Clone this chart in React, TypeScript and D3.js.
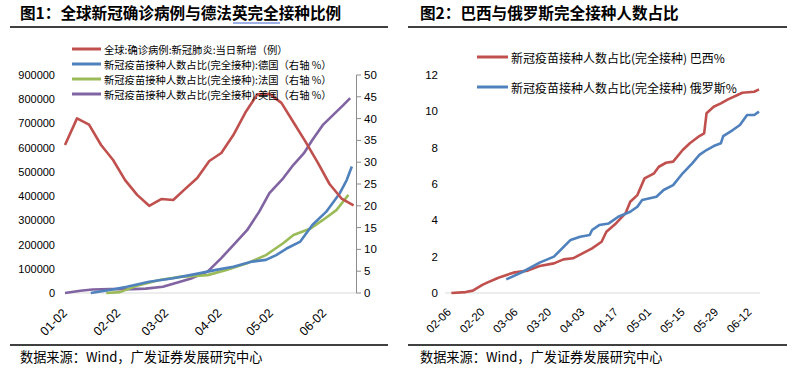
import React from "react";
import * as d3 from "d3";

// ---------- Chart 1 data ----------
const title1 = "图1：全球新冠确诊病例与德法英完全接种比例";
const title2 = "图2：巴西与俄罗斯完全接种人数占比";
const sourceText = "数据来源：Wind，广发证券发展研究中心";

const legend1 = [
  "全球:确诊病例:新冠肺炎:当日新增（例）",
  "新冠疫苗接种人数占比(完全接种):德国（右轴 %）",
  "新冠疫苗接种人数占比(完全接种):法国（右轴 %）",
  "新冠疫苗接种人数占比(完全接种):美国（右轴 %）",
];
const legend2 = [
  "新冠疫苗接种人数占比(完全接种) 巴西%",
  "新冠疫苗接种人数占比(完全接种) 俄罗斯%",
];

const globalDates = [
  "01-02", "01-09", "01-16", "01-23", "01-30", "02-06", "02-13", "02-20", "02-27",
  "03-06", "03-13", "03-20", "03-27", "04-03", "04-10", "04-17", "04-24", "05-01",
  "05-08", "05-15", "05-22", "05-29", "06-05", "06-12", "06-19",
];
const globalNewCases = [
  611000, 721000, 695000, 611000, 549000, 466000, 405000, 360000, 388000,
  384000, 430000, 475000, 545000, 578000, 652000, 745000, 820000, 822000,
  785000, 705000, 625000, 540000, 450000, 390000, 362000,
];

const deDates = [
  "01-17", "01-28", "02-07", "02-20", "03-06", "03-21", "03-31", "04-10", "04-21",
  "04-29", "05-05", "05-11", "05-19", "05-26", "06-03", "06-11", "06-15", "06-18",
];
const deValues = [0, 0.7, 1.45, 2.6, 3.4, 4.5, 5.3, 6.0, 7.2, 7.6, 8.7, 10.2, 11.8, 15.6, 18.6, 22.9, 25.9, 29.0];

const frDates = [
  "01-26", "02-03", "02-14", "02-26", "03-10", "03-26", "04-06", "04-18", "04-29",
  "05-09", "05-15", "05-25", "06-01", "06-09", "06-16",
];
const frValues = [0, 0.2, 1.8, 3.0, 3.7, 4.1, 5.3, 6.8, 8.7, 11.4, 13.3, 14.8, 16.7, 19.0, 22.5];

const usDates = [
  "01-02", "01-11", "01-18", "01-28", "02-10", "02-18", "02-28", "03-10", "03-17",
  "03-26", "04-03", "04-10", "04-18", "04-25", "05-01", "05-09", "05-15", "05-21",
  "05-26", "06-01", "06-07", "06-13", "06-17",
];
const usValues = [
  0, 0.5, 0.8, 0.9, 0.9, 1.0, 1.45, 2.6, 3.4, 4.9, 8.0, 11.0, 14.4, 18.6, 22.9,
  26.3, 29.4, 32.0, 35.1, 38.5, 40.8, 43.1, 44.7,
];

const leftTicks = ["01-02", "02-02", "03-02", "04-02", "05-02", "06-02"];
const leftYTicks = [0, 100000, 200000, 300000, 400000, 500000, 600000, 700000, 800000, 900000];
const rightYTicks = [0, 5, 10, 15, 20, 25, 30, 35, 40, 45, 50];

// ---------- Chart 2 data ----------
const brDates = [
  "02-07", "02-13", "02-16", "02-20", "02-22", "02-26", "02-28", "03-05", "03-11",
  "03-16", "03-22", "03-26", "03-30", "04-03", "04-07", "04-11", "04-13", "04-17",
  "04-21", "04-23", "04-26", "04-29", "05-03", "05-05", "05-08", "05-11", "05-15",
  "05-18", "05-22", "05-24", "05-25", "05-28", "05-31", "06-03", "06-07", "06-09",
  "06-14", "06-16",
];
const brValues = [
  0.0, 0.05, 0.13, 0.45, 0.57, 0.8, 0.9, 1.12, 1.23, 1.49, 1.63, 1.85, 1.91, 2.18,
  2.46, 2.82, 3.37, 3.83, 4.38, 5.02, 5.39, 6.31, 6.59, 6.95, 7.17, 7.23, 7.87,
  8.24, 8.64, 8.79, 9.89, 10.25, 10.44, 10.66, 10.9, 11.02, 11.08, 11.21,
];

const ruDates = [
  "03-02", "03-09", "03-16", "03-22", "03-29", "04-02", "04-06", "04-07", "04-10",
  "04-14", "04-18", "04-23", "04-26", "04-28", "05-04", "05-07", "05-11", "05-15",
  "05-19", "05-22", "05-25", "05-28", "05-31", "06-01", "06-05", "06-08", "06-11",
  "06-14", "06-16",
];
const ruValues = [
  0.75, 1.17, 1.67, 2.0, 2.92, 3.1, 3.19, 3.47, 3.74, 3.83, 4.2, 4.47, 4.75, 5.12,
  5.3, 5.67, 5.94, 6.59, 7.14, 7.6, 7.87, 8.09, 8.24, 8.64, 8.97, 9.25, 9.8, 9.8, 9.98,
];

const rightTicks = ["02-06", "02-20", "03-06", "03-20", "04-03", "04-17", "05-01", "05-15", "05-29", "06-12"];
const chart2YTicks = [0, 2, 4, 6, 8, 10, 12];

// ---------- styles ----------
const RED = "#C0504D";
const BLUE = "#4F81BD";
const GREEN = "#9BBB59";
const PURPLE = "#8064A2";
const AXIS = "#8c8c8c";
const CJK = "'Noto Sans CJK SC', 'Noto Sans', sans-serif";
const NUM = "'Liberation Sans', Arial, sans-serif";

const parse = (s: string) => d3.timeParse("%Y-%m-%d")("2021-" + s) as Date;

export default function App() {
  // chart 1 scales
  const x1 = d3.scaleTime().domain([parse("01-02"), parse("06-21")]).range([65, 357]);
  const yL = d3.scaleLinear().domain([0, 900000]).range([293, 75]);
  const yR = d3.scaleLinear().domain([0, 50]).range([293, 75]);

  // chart 2 scales
  const x2 = d3.scaleTime().domain([parse("02-06"), parse("06-16")]).range([449, 759]);
  const y2 = d3.scaleLinear().domain([0, 12]).range([293, 75]);

  const mkLine = (x: any, y: any) =>
    d3
      .line<[string, number]>()
      .x((d) => x(parse(d[0])))
      .y((d) => y(d[1]));

  const zip = (a: string[], b: number[]) => a.map((d, i) => [d, b[i]] as [string, number]);

  const redPath = mkLine(x1, yL)(zip(globalDates, globalNewCases)) || "";
  const dePath = mkLine(x1, yR)(zip(deDates, deValues)) || "";
  const frPath = mkLine(x1, yR)(zip(frDates, frValues)) || "";
  const usPath = mkLine(x1, yR)(zip(usDates, usValues)) || "";
  const brPath = mkLine(x2, y2)(zip(brDates, brValues)) || "";
  const ruPath = mkLine(x2, y2)(zip(ruDates, ruValues)) || "";

  const lw = 2.6;
  const leftColors = [RED, BLUE, GREEN, PURPLE];
  const legend1Y = [49, 64, 79, 94];

  return (
    <svg
      width={811}
      height={378}
      style={{ position: "absolute", left: 0, top: 0, background: "#fff" }}
    >
      <rect x={0} y={0} width={811} height={378} fill="#fff" />

      {/* Titles */}
      <text x={20} y={19} fontFamily={CJK} fontWeight="bold" fontSize={15.6} fill="#000">
        {title1}
      </text>
      <line x1={233} x2={280} y1={23} y2={23} stroke="#3a62c9" strokeWidth={1} />
      <line x1={10} x2={388} y1={27} y2={27} stroke="#000" strokeWidth={1.5} />

      <text x={420} y={19} fontFamily={CJK} fontWeight="bold" fontSize={15.6} fill="#000">
        {title2}
      </text>
      <line x1={408} x2={787} y1={27} y2={27} stroke="#000" strokeWidth={1.5} />

      {/* ---------- Chart 1 ---------- */}
      <line x1={65} x2={357} y1={293} y2={293} stroke="#d9d9d9" strokeWidth={1} />
      <line x1={356.5} x2={356.5} y1={75} y2={293} stroke={AXIS} strokeWidth={1} />
      {rightYTicks.map((t) => (
        <g key={"r" + t}>
          <line x1={356.5} x2={361} y1={yR(t)} y2={yR(t)} stroke={AXIS} strokeWidth={1} />
          <text x={364} y={yR(t)} dominantBaseline="central" fontFamily={NUM} fontSize={11.5} fill="#000">
            {t}
          </text>
        </g>
      ))}
      {leftYTicks.map((t) => (
        <text key={"l" + t} x={55} y={yL(t)} textAnchor="end" dominantBaseline="central" fontFamily={NUM} fontSize={11} fill="#000">
          {t}
        </text>
      ))}
      {leftTicks.map((t) => (
        <text
          key={"xt" + t}
          transform={`translate(${x1(parse(t))},311) rotate(-45)`}
          textAnchor="end"
          dominantBaseline="central"
          fontFamily={NUM}
          fontSize={12.5}
          fill="#000"
        >
          {t}
        </text>
      ))}

      <path d={usPath} fill="none" stroke={PURPLE} strokeWidth={lw} strokeLinejoin="round" />
      <path d={frPath} fill="none" stroke={GREEN} strokeWidth={lw} strokeLinejoin="round" />
      <path d={dePath} fill="none" stroke={BLUE} strokeWidth={lw} strokeLinejoin="round" />
      <path d={redPath} fill="none" stroke={RED} strokeWidth={lw} strokeLinejoin="round" />

      {legend1.map((t, i) => (
        <g key={"lg1" + i}>
          <line x1={72} x2={101} y1={legend1Y[i]} y2={legend1Y[i]} stroke={leftColors[i]} strokeWidth={3} />
          <text x={104} y={legend1Y[i]} dominantBaseline="central" fontFamily={CJK} fontSize={10.3} fill="#000">
            {t}
          </text>
        </g>
      ))}

      {/* ---------- Chart 2 ---------- */}
      <line x1={445} x2={760} y1={293} y2={293} stroke="#d9d9d9" strokeWidth={1} />
      {chart2YTicks.map((t) => (
        <text key={"y2" + t} x={438} y={y2(t)} textAnchor="end" dominantBaseline="central" fontFamily={NUM} fontSize={11.5} fill="#000">
          {t}
        </text>
      ))}
      {rightTicks.map((t) => (
        <text
          key={"xt2" + t}
          transform={`translate(${x2(parse(t))},310) rotate(-45)`}
          textAnchor="end"
          dominantBaseline="central"
          fontFamily={NUM}
          fontSize={11.5}
          fill="#000"
        >
          {t}
        </text>
      ))}
      <path d={brPath} fill="none" stroke={RED} strokeWidth={lw} strokeLinejoin="round" />
      <path d={ruPath} fill="none" stroke={BLUE} strokeWidth={lw} strokeLinejoin="round" />

      {legend2.map((t, i) => (
        <g key={"lg2" + i}>
          <line x1={477} x2={508} y1={57 + i * 30} y2={57 + i * 30} stroke={i === 0 ? RED : BLUE} strokeWidth={3} />
          <text x={511} y={57 + i * 30} dominantBaseline="central" fontFamily={CJK} fontSize={12} fill="#000">
            {t}
          </text>
        </g>
      ))}

      {/* Footers */}
      <line x1={10} x2={388} y1={345} y2={345} stroke="#000" strokeWidth={1.5} />
      <line x1={408} x2={787} y1={345} y2={345} stroke="#000" strokeWidth={1.5} />
      <text x={20} y={362} fontFamily={CJK} fontSize={13.2} fill="#000">
        {sourceText}
      </text>
      <text x={420} y={362} fontFamily={CJK} fontSize={13.2} fill="#000">
        {sourceText}
      </text>
    </svg>
  );
}
